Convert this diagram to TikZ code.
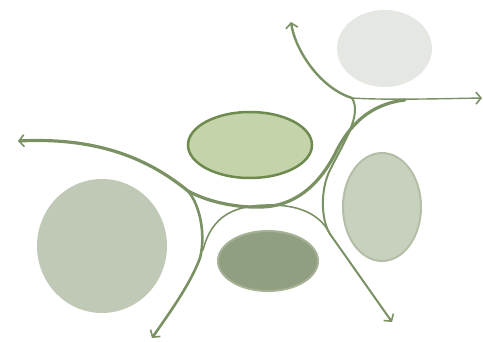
\documentclass[tikz,border=0pt]{standalone}
\usepackage{tikz}
\usetikzlibrary{arrows.meta, shapes.geometric}
\definecolor{roadC}{RGB}{122,145,100}
\definecolor{mistC}{RGB}{229,231,226}
\definecolor{leafC}{RGB}{196,211,169}
\definecolor{leafD}{RGB}{110,138,78}
\definecolor{sageC}{RGB}{192,201,182}
\definecolor{paleC}{RGB}{200,208,190}
\definecolor{paleD}{RGB}{180,190,167}
\definecolor{mossC}{RGB}{145,159,129}
\definecolor{mossD}{RGB}{165,177,149}
\begin{document}
\begin{tikzpicture}[x=1pt, y=-1pt, >={Straight Barb[length=5pt,width=12pt,line width=1.6pt]},
  blob/.style={ellipse, inner sep=0pt},
  lane/.style={draw=roadC, line cap=round}]
  \useasboundingbox (0,0) rectangle (483,342);
  % Blobs
  \node[blob, fill=mistC, minimum width=95, minimum height=77] (mist) at (384.5,48.5) {};
  \node[blob, fill=leafC, draw=leafD, line width=2.5pt, minimum width=124, minimum height=66] (leaf) at (250,145) {};
  \node[blob, fill=sageC, minimum width=130, minimum height=134] (sage) at (102,246) {};
  \node[blob, fill=paleC, draw=paleD, line width=2pt, minimum width=78, minimum height=108] (pale) at (382,207) {};
  \node[blob, fill=mossC, draw=mossD, line width=2pt, minimum width=100, minimum height=60] (moss) at (268,261) {};
  % Ends and joints
  \coordinate (larr) at (18,141);
  \coordinate (tarr) at (291,22);
  \coordinate (rarr) at (482,98);
  \coordinate (blarr) at (152,338);
  \coordinate (brarr) at (392,322);
  \coordinate (jl) at (188,191);
  \coordinate (jt) at (352,98);
  \coordinate (jr) at (330,234);
  \coordinate (jb) at (200,258);
  \coordinate (jb2) at (203,250);
  \coordinate (m1) at (262,207);
  \coordinate (m2) at (337,150);
  \coordinate (m3) at (405,100);
  \coordinate (c3) at (330,170);
  \coordinate (c5) at (270,205);
  % Main sweep
  \draw[lane, line width=3.2pt, <-] (larr) .. controls (100,137) and (150,160) .. (jl)
    .. controls (210,203) and (240,208) .. (m1) .. controls (295,206) and (320,185) .. (m2)
    .. controls (350,125) and (370,104) .. (m3);
  \draw[lane, line width=1.4pt, ->] (jt) .. controls (380,100) and (430,99) .. (rarr);
  \draw[lane, line width=2.4pt, ->] (jt) .. controls (320,88) and (295,50) .. (tarr);
  % Right branch
  \draw[lane, line width=2pt] (jt) .. controls (362,115) and (345,140) .. (c3)
    .. controls (320,190) and (321,220) .. (jr);
  \draw[lane, line width=2pt, ->] (jr) -- (brarr);
  % Left branch
  \draw[lane, line width=2.6pt, ->] (jl) .. controls (200,205) and (206,235) .. (jb)
    .. controls (190,285) and (168,315) .. (blarr);
  \draw[lane, line width=1.6pt] (jb2) .. controls (212,215) and (235,205) .. (c5)
    .. controls (305,205) and (322,218) .. (jr);
\end{tikzpicture}
\end{document}
